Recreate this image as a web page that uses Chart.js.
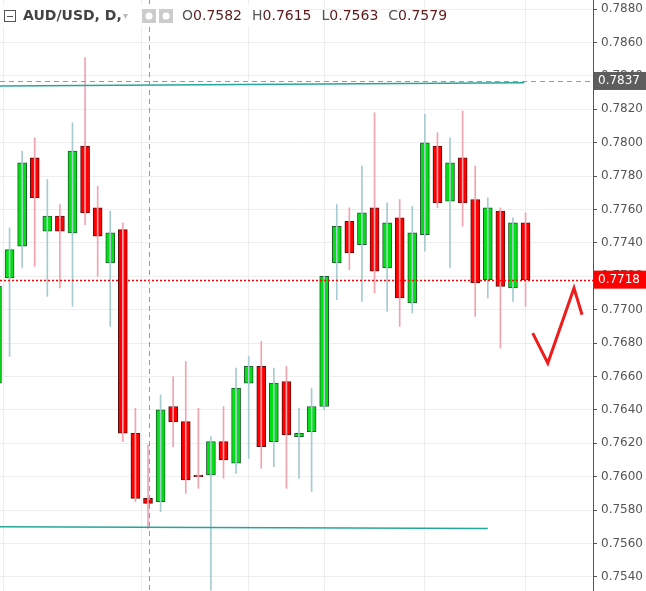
<!DOCTYPE html>
<html>
<head>
<meta charset="utf-8">
<script src="https://cdn.jsdelivr.net/npm/chart.js@4"></script>
<style>
  html, body { margin: 0; padding: 0; background: #fff; }
  #wrap { width: 646px; height: 591px; }
</style>
</head>
<body>
<div id="wrap"><canvas id="chart"></canvas></div>
<script>
// candle index, open, high, low, close
const idx   = [0,1,2,3,4,5,6,7,8,9,10,11,12,13,14,15,16,17,18,19,20,21,22,23,24,25,26,27,28,29,30,31,32,33,34,35,36,37,38,39,40,41,42];
const opens = [0.7656,0.7719,0.7738,0.7791,0.7747,0.7756,0.7746,0.7798,0.7761,0.7728,0.7748,0.7626,0.7587,0.7585,0.7642,0.7633,0.7601,0.7601,0.7621,0.7608,0.7656,0.7666,0.7621,0.7657,0.7624,0.7627,0.7642,0.7728,0.7753,0.7739,0.7761,0.7725,0.7755,0.7704,0.7745,0.7798,0.7765,0.7791,0.7766,0.7718,0.7759,0.7713,0.7752];
const highs = [0.7714,0.7749,0.7795,0.7803,0.7778,0.7763,0.7812,0.7851,0.7774,0.7759,0.7752,0.7641,0.7619,0.7649,0.7660,0.7669,0.7641,0.7624,0.7642,0.7665,0.7672,0.7681,0.7665,0.7666,0.7641,0.7653,0.7720,0.7763,0.7761,0.7786,0.7818,0.7764,0.7766,0.7762,0.7817,0.7806,0.7803,0.7819,0.7786,0.7767,0.7761,0.7755,0.7758];
const lows  = [0.7650,0.7672,0.7725,0.7726,0.7708,0.7713,0.7702,0.7751,0.7720,0.7690,0.7621,0.7585,0.7569,0.7579,0.7618,0.7590,0.7593,0.7532,0.7599,0.7602,0.7611,0.7605,0.7606,0.7593,0.7599,0.7591,0.7640,0.7706,0.7724,0.7705,0.7710,0.7699,0.7690,0.7698,0.7735,0.7761,0.7725,0.7750,0.7696,0.7707,0.7677,0.7705,0.7702];
const closes= [0.7714,0.7736,0.7788,0.7767,0.7756,0.7747,0.7795,0.7758,0.7744,0.7746,0.7626,0.7587,0.7584,0.7640,0.7633,0.7598,0.7600,0.7621,0.7610,0.7653,0.7666,0.7618,0.7656,0.7625,0.7626,0.7642,0.7720,0.7750,0.7734,0.7758,0.7723,0.7752,0.7707,0.7746,0.7800,0.7764,0.7788,0.7764,0.7716,0.7761,0.7714,0.7752,0.7718];

// drawn lines
const topLineX = [0, 41.9];      const topLineY = [0.7834, 0.7836];
const lowLineX = [0, 39.0];      const lowLineY = [0.7570, 0.7569];
const checkX = [42.57, 43.77, 45.85, 46.49];
const checkY = [0.7686, 0.7668, 0.7713, 0.7697];
const gridIdx = [6, 17, 23, 29, 39, 45];
const yTicks = [0.7540,0.7560,0.7580,0.7600,0.7620,0.7640,0.7660,0.7680,0.7700,0.7720,0.7740,0.7760,0.7780,0.7800,0.7820,0.7840,0.7860,0.7880];
const lastPrice = 0.7718, markPrice = 0.7837, crossIdx = 12.05;

const GREEN = '#00e013', RED = '#ff0000';
const bodies = idx.map(i => ({ x: i, y: [opens[i], closes[i]] }));
const wicks  = idx.map(i => ({ x: i, y: [lows[i], highs[i]] }));
const up = i => closes[i] >= opens[i];

const overlay = {
  id: 'overlay',
  afterDatasetsDraw(chart) {
    const { ctx, chartArea: a, scales: { x, y } } = chart;
    ctx.save();
    // red dotted last price line
    ctx.strokeStyle = RED; ctx.lineWidth = 1.3; ctx.setLineDash([2, 2]);
    let py = Math.round(y.getPixelForValue(lastPrice)) + 0.5;
    ctx.beginPath(); ctx.moveTo(a.left, py); ctx.lineTo(a.right, py); ctx.stroke();
    // gray dashed line
    ctx.strokeStyle = '#999'; ctx.lineWidth = 1; ctx.setLineDash([5, 4]);
    let gy = Math.round(y.getPixelForValue(markPrice)) + 0.5;
    ctx.beginPath(); ctx.moveTo(a.left, gy); ctx.lineTo(a.right, gy); ctx.stroke();
    // crosshair
    let cx = Math.round(x.getPixelForValue(crossIdx)) + 0.5;
    ctx.beginPath(); ctx.moveTo(cx, a.top); ctx.lineTo(cx, a.bottom); ctx.stroke();
    ctx.setLineDash([]);
    // price tags on axis
    ctx.font = '12px "DejaVu Sans"'; ctx.textBaseline = 'middle';
    [[markPrice, '#5d5d5d'], [lastPrice, RED]].forEach(([v, c]) => {
      const yy = y.getPixelForValue(v);
      ctx.fillStyle = c; ctx.fillRect(a.right + 1, yy - 9, 52, 18);
      ctx.fillStyle = '#fff'; ctx.fillText(v.toFixed(4), a.right + 5, yy);
    });
    // header
    ctx.fillStyle = 'rgba(255,255,255,0.85)'; ctx.fillRect(0, 4, 300, 22);
    ctx.strokeStyle = '#555'; ctx.strokeRect(4.5, 10.5, 11, 11);
    ctx.beginPath(); ctx.moveTo(7, 16.5); ctx.lineTo(13, 16.5); ctx.stroke();
    ctx.font = 'bold 14px "DejaVu Sans"'; ctx.fillStyle = '#444';
    ctx.fillText('AUD/USD, D,', 23, 16);
    ctx.fillStyle = '#bbb'; ctx.font = '10px "DejaVu Sans"'; ctx.fillText('▾', 123, 16);
    ctx.fillStyle = '#ccc'; ctx.fillRect(142, 9, 14, 14); ctx.fillRect(159, 9, 14, 14);
    ctx.fillStyle = '#fff'; ctx.beginPath(); ctx.arc(149, 16, 3.5, 0, 7); ctx.fill();
    ctx.beginPath(); ctx.arc(166, 16, 3.5, 0, 7); ctx.fill();
    ctx.font = '14px "DejaVu Sans"';
    let tx = 182;
    [['O', '0.7582'], ['H', '0.7615'], ['L', '0.7563'], ['C', '0.7579']].forEach(([k, v]) => {
      ctx.fillStyle = '#555'; ctx.fillText(k, tx, 16); tx += ctx.measureText(k).width;
      ctx.fillStyle = '#5d1a1a'; ctx.fillText(v, tx, 16); tx += ctx.measureText(v).width + 10;
    });
    ctx.restore();
  }
};

new Chart(document.getElementById('chart'), {
  type: 'bar',
  data: {
    datasets: [
      { type: 'line', data: topLineX.map((v, i) => ({ x: v, y: topLineY[i] })), borderColor: '#26a69a', borderWidth: 1.5, pointRadius: 0 },
      { type: 'line', data: lowLineX.map((v, i) => ({ x: v, y: lowLineY[i] })), borderColor: '#26a69a', borderWidth: 1.5, pointRadius: 0 },
      { data: wicks, barThickness: 1, grouped: false,
        backgroundColor: idx.map(i => up(i) ? '#a6cbd0' : '#f4a3ae') },
      { data: bodies, barThickness: 9, grouped: false, borderSkipped: false, borderWidth: 1,
        backgroundColor: idx.map(i => up(i) ? GREEN : RED),
        borderColor: idx.map(i => up(i) ? '#1f5c2e' : '#5a1010') },
      { type: 'line', data: checkX.map((v, i) => ({ x: v, y: checkY[i] })), borderColor: '#ee1c1c', borderWidth: 3, pointRadius: 0 }
    ]
  },
  options: {
    animation: false, responsive: true, maintainAspectRatio: false,
    layout: { padding: 0 },
    plugins: { legend: { display: false }, tooltip: { enabled: false } },
    scales: {
      x: { type: 'linear', min: 0.24, max: 47.36, offset: false,
        afterBuildTicks: s => { s.ticks = gridIdx.map(v => ({ value: v })); },
        afterFit: s => { s.height = 0; s.paddingLeft = 0; s.paddingRight = 0; },
        grid: { color: '#eeeeee', drawTicks: false }, border: { display: false },
        ticks: { display: false } },
      y: { position: 'right', min: 0.75315, max: 0.78855,
        afterBuildTicks: s => { s.ticks = yTicks.map(v => ({ value: v })); },
        afterFit: s => { s.width = 53; s.paddingTop = 0; s.paddingBottom = 0; },
        grid: { color: '#eeeeee', tickLength: 4, tickColor: '#555' }, border: { color: '#555' },
        ticks: { color: '#555', padding: 4, font: { family: 'DejaVu Sans', size: 12 }, callback: v => v.toFixed(4) } }
    }
  },
  plugins: [overlay]
});
</script>
</body>
</html>
